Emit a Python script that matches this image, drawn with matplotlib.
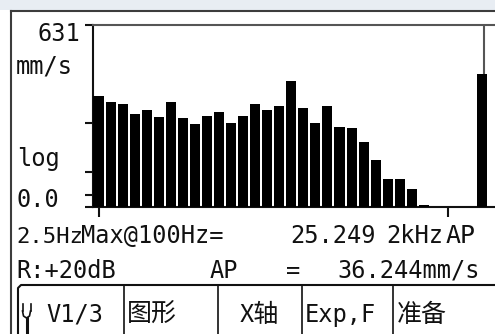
import numpy as np
import matplotlib
matplotlib.use('Agg')
from matplotlib import pyplot as plt
from matplotlib.ticker import NullLocator

# 1/3 octave velocity spectrum, 2.5 Hz .. 2 kHz
bands = ['2.5', '3.15', '4', '5', '6.3', '8', '10', '12.5', '16', '20',
         '25', '31.5', '40', '50', '63', '80', '100', '125', '160', '200',
         '250', '315', '400', '500', '630', '800', '1k', '1.25k', '1.6k', '2k']
levels = [10.2, 7.11, 6.44, 3.61, 4.47, 3.08, 7.11, 2.81, 1.98, 3.15,
          3.98, 2.22, 3.15, 6.44, 4.47, 5.63, 25.249, 5.02, 2.22, 5.63,
          1.76, 1.57, 0.697, 0.246, 0.0863, 0.0863, 0.0483, 0.0191, 0, 0]
ap_level = 36.244
y_top = 631
y_bottom = 0.0166
y_marks = [0.0327, 0.1265, 2.175]

W, H = 495, 334
MONO = ['DejaVu Sans Mono', 'Noto Sans CJK SC']
CJK = ['Noto Sans CJK SC', 'DejaVu Sans Mono']
INK = '#111111'

fig = plt.figure(figsize=(W / 100, H / 100), dpi=100)
fig.patch.set_facecolor('white')

# screen layer in pixel coordinates
scr = fig.add_axes([0, 0, 1, 1], zorder=0)
scr.set_xlim(0, W)
scr.set_ylim(H, 0)
scr.axis('off')

scr.axhspan(0, 9.5, color='#e8edf3', lw=0)
scr.plot([10.5, W], [10.5, 10.5], color='#3c3c3c', lw=1.5)
scr.plot([10.5, 10.5], [10.5, H], color='#3c3c3c', lw=1.5)

# softkey bar
scr.plot([18, 18, 21, W], [H, 288, 285, 285], color=INK, lw=1.5)
for sx in [124, 218, 302, 393]:
    scr.plot([sx, sx], [285, H], color=INK, lw=1.2)

# probe icon
scr.plot([22.5, 22.5], [304, 311], color=INK, lw=1.2)
scr.plot([30.5, 30.5], [304, 311], color=INK, lw=1.2)
scr.plot([22.5, 23.5, 26.5, 29.5, 30.5], [311, 316, 318, 316, 311], color=INK, lw=1.2)
scr.plot([26.5, 26.5], [318, H], color=INK, lw=2.2)

def put(x, y, s, size=17, family=MONO, ha='left'):
    scr.text(x, y, s, fontsize=size, family=family, ha=ha, va='baseline', color=INK)

put(80, 41, '631', ha='right')
put(16, 73, 'mm/s')
put(17, 166, 'log')
put(16, 207, '0.0')

put(16, 243, '2.5Hz', size=16)
put(81, 243, 'Max@100Hz=')
put(290, 243, '25.249')
put(386, 243, '2kHz')
put(446, 243, 'AP', size=18)

put(16, 278, 'R:+20dB')
put(210, 278, 'AP')
put(286, 278, '=')
put(337, 278, '36.244mm/s')

put(46, 322, 'V1/3')
put(127, 322, '图形', size=18, family=CJK)
put(240, 322, 'X轴', size=18, family=CJK)
put(305, 322, 'Exp,F')
put(397, 322, '准备', size=18, family=CJK)

# spectrum panel, runs past the right edge of the screen
px_left, px_top, px_base, px_right = 93, 25, 207, 600
pitch = 12.05
ax = fig.add_axes([px_left / W, 1 - px_base / H,
                   (px_right - px_left) / W, (px_base - px_top) / H], zorder=2)
ax.patch.set_alpha(0)

x = np.arange(len(bands))
ax.bar(x, levels, width=0.83, color='black', zorder=3)
ax.bar(31.8, ap_level, width=0.83, color='black', zorder=3)
# cursor from the AP bar up to full scale
ax.vlines(32.0, ap_level, y_top, color='#555555', lw=1.5, zorder=2)

ax.set_yscale('log', nonpositive='clip')
ax.set_ylim(y_bottom, y_top)
ax.set_xlim((px_left - 98.5) / pitch, (px_right - 98.5) / pitch)

ax.set_yticks([y_bottom] + y_marks + [y_top])
ax.set_yticklabels([])
ax.yaxis.set_minor_locator(NullLocator())
ax.set_xticks([0, 29])
ax.set_xticklabels([])
ax.tick_params(axis='y', length=6, width=1.5, color=INK, direction='out')
ax.tick_params(axis='x', length=7, width=1.5, color=INK, direction='out')

ax.spines['right'].set_visible(False)
ax.spines['left'].set_linewidth(1.5)
ax.spines['left'].set_color(INK)
ax.spines['bottom'].set_linewidth(1.5)
ax.spines['bottom'].set_color(INK)
ax.spines['top'].set_linewidth(1.5)
ax.spines['top'].set_color('#555555')

fig.savefig('out.png', dpi=100)
